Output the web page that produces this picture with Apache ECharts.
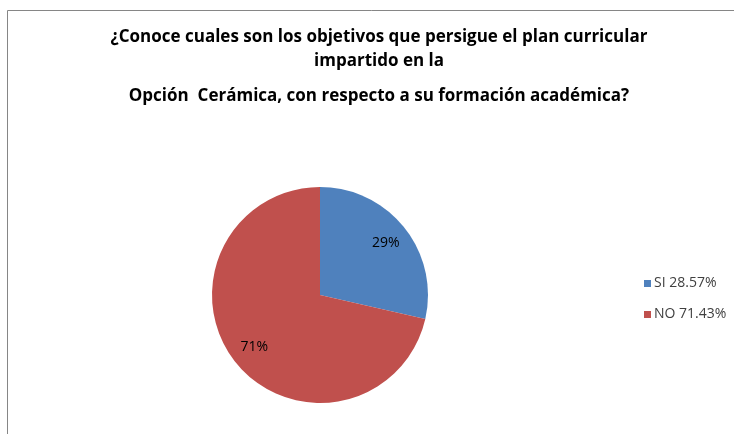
<!DOCTYPE html>
<html>
<head>
<meta charset="utf-8">
<script src="https://cdn.jsdelivr.net/npm/echarts@6/dist/echarts.min.js"></script>
<style>
  html, body { margin: 0; padding: 0; background: #fff; }
  #main { width: 734px; height: 434px; }
</style>
</head>
<body>
<div id="main"></div>
<script>
var titleLines = [
  '¿Conoce cuales son los objetivos que persigue el plan curricular',
  'impartido en la',
  'Opción  Cerámica, con respecto a su formación académica?'
];
var categories = ['SI', 'NO'];
var values = [28.57, 71.43];
var colors = ['#4F81BD', '#C0504D'];

var chart = echarts.init(document.getElementById('main'), null, { renderer: 'canvas' });

var pieData = categories.map(function (c, i) {
  return { name: c, value: values[i], itemStyle: { color: colors[i] } };
});

var font = '"Open Sans", Lato, sans-serif';
var titleTops = [29, 53, 88];

var option = {
  backgroundColor: '#ffffff',
  animation: false,
  title: titleLines.map(function (t, i) {
    return {
      text: t,
      left: 379,
      textAlign: 'center',
      top: titleTops[i],
      padding: 0,
      textStyle: { fontFamily: font, fontWeight: 'bold', fontSize: 17, color: '#000' }
    };
  }),
  graphic: [{
    type: 'rect',
    shape: { x: 7.5, y: 10.5, width: 760, height: 460 },
    style: { fill: 'none', stroke: '#868686', lineWidth: 1 },
    silent: true
  }],
  legend: {
    orient: 'vertical',
    left: 639,
    top: 271,
    itemWidth: 7,
    itemHeight: 7,
    itemGap: 16,
    icon: 'rect',
    data: categories,
    textStyle: { fontFamily: font, fontSize: 14, color: '#404040', lineHeight: 15, padding: [0, 0, 0, -2] },
    formatter: function (name) {
      return name + ' ' + values[categories.indexOf(name)] + '%';
    }
  },
  series: [{
    type: 'pie',
    center: [320, 295],
    radius: 108,
    startAngle: 90,
    clockwise: true,
    silent: true,
    label: { show: false },
    labelLine: { show: false },
    data: pieData
  }, {
    // transparent copy, only used to place the percentage labels further out
    type: 'pie',
    center: [320, 295],
    radius: 162,
    startAngle: 90,
    clockwise: true,
    silent: true,
    percentPrecision: 0,
    itemStyle: { color: 'rgba(0,0,0,0)' },
    label: {
      show: true,
      position: 'inside',
      formatter: '{d}%',
      fontFamily: font,
      fontSize: 14,
      color: '#000'
    },
    labelLine: { show: false },
    data: categories.map(function (c, i) {
      return { name: c, value: values[i], itemStyle: { color: 'rgba(0,0,0,0)' } };
    })
  }]
};

chart.setOption(option);
</script>
</body>
</html>
